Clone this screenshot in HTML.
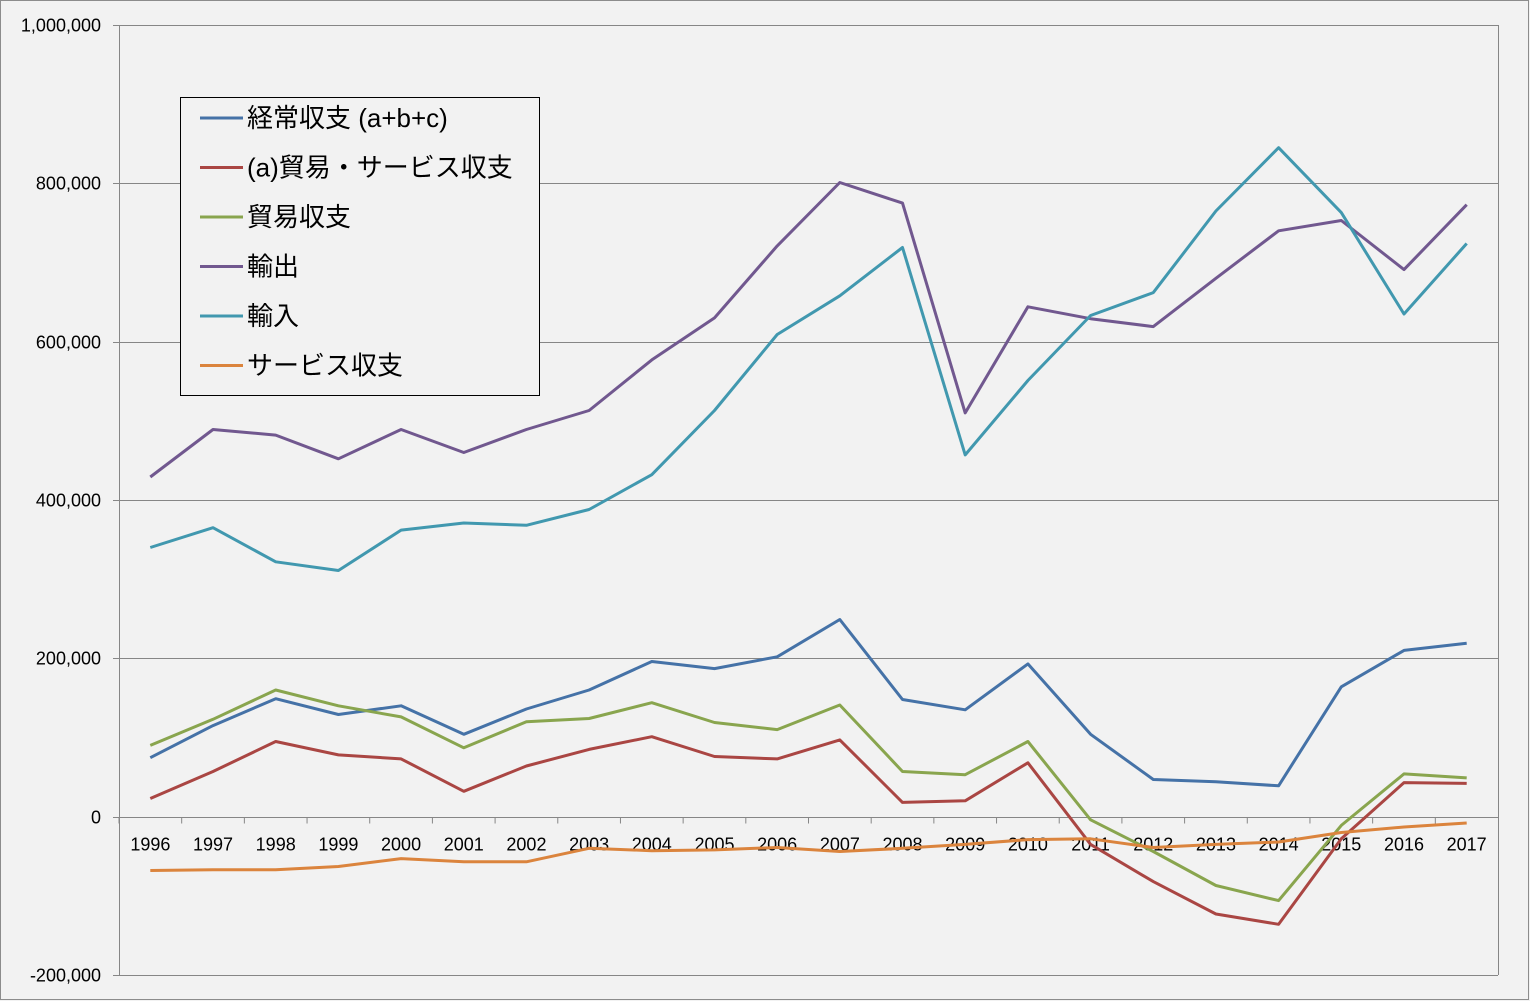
<!DOCTYPE html>
<html><head><meta charset="utf-8"><style>
body{margin:0;background:#f2f2f2;}
svg{display:block;font-family:"Liberation Sans","Noto Sans CJK JP",sans-serif;}
</style></head><body>
<svg id="chart" width="1530" height="1001">
<rect x="0.5" y="0.5" width="1528" height="999" fill="#f2f2f2" stroke="#8c8c8c"/>
<g id="grid"></g><g id="axes"></g><g id="series"></g>
<g>
<rect x="180.5" y="97.5" width="359" height="298" fill="#f2f2f2" stroke="#000"/>
<g id="legend"></g>
</g>
</svg>
<script>
const years=["1996","1997","1998","1999","2000","2001","2002","2003","2004","2005","2006","2007","2008","2009","2010","2011","2012","2013","2014","2015","2016","2017"];
const currentAccount=[74500,115000,149000,129000,140000,104000,136000,160000,196000,187000,202000,249000,148000,135000,193000,104000,47000,44000,39000,164000,210000,219000];
const tradeServices=[23000,57000,95000,78000,73000,32000,64000,85000,101000,76000,73000,97000,18000,20000,68000,-35000,-82000,-123000,-136000,-28000,43000,42000];
const trade=[90000,123000,160000,140000,126000,87000,120000,124000,144000,119000,110000,141000,57000,53000,95000,-4000,-44000,-87000,-106000,-11000,54000,49000];
const exportsV=[429000,489000,482000,452000,489000,460000,489000,513000,577000,630000,721000,801000,775000,510000,644000,629000,619000,680000,740000,753000,691000,773000];
const importsV=[340000,365000,322000,311000,362000,371000,368000,388000,432000,513000,609000,658000,719000,457000,551000,633000,662000,765000,845000,763000,635000,724000];
const services=[-68000,-67000,-67000,-63000,-53000,-57000,-57000,-40000,-43000,-42000,-39000,-44000,-40000,-35000,-29000,-28000,-39000,-35000,-32000,-20000,-13000,-8000];
const yTicks=[-200000,0,200000,400000,600000,800000,1000000];
const yTickLabels=["-200,000","0","200,000","400,000","600,000","800,000","1,000,000"];
const seriesNames=["経常収支 (a+b+c)","(a)貿易・サービス収支","貿易収支","輸出","輸入","サービス収支"];

const NS="http://www.w3.org/2000/svg";
const L=119,R=1498,T=25,B=975,yMin=-200000,yMax=1000000;
const step=(R-L)/years.length;
function xs(i){return L+step*(i+0.5);}
function ys(v){return B-(v-yMin)/(yMax-yMin)*(B-T);}
function mk(tag,attrs,parent){const e=document.createElementNS(NS,tag);for(const k in attrs)e.setAttribute(k,attrs[k]);parent.appendChild(e);return e;}
const grid=document.getElementById('grid'),axes=document.getElementById('axes'),ser=document.getElementById('series'),leg=document.getElementById('legend');
yTicks.forEach((v,i)=>{
 const y=Math.round(ys(v))+0.5;
 if(v!==0){const g=mk('line',{x1:L,x2:R,y1:y,y2:y,stroke:'#868686','stroke-width':1},grid);
 
 }
 const tk=mk('line',{x1:L-6,x2:L,y1:y,y2:y,stroke:'#868686'},axes);
 
 
 const t=mk('text',{x:101,y:y+6,'text-anchor':'end','font-size':18,fill:'#000'},axes);
 t.textContent=yTickLabels[i];
 
 
});
const ya=mk('line',{x1:L+0.5,x2:L+0.5,y1:T,y2:B,stroke:'#868686'},axes);


const rb=mk('line',{x1:R+0.5,x2:R+0.5,y1:T,y2:B,stroke:'#868686'},axes);


const y0=Math.round(ys(0))+0.5;
const xa=mk('line',{x1:L,x2:R,y1:y0,y2:y0,stroke:'#868686'},axes);


years.forEach((yr,i)=>{
 const tx=L+step*i;
 const tk=mk('line',{x1:tx,x2:tx,y1:y0,y2:y0+6,stroke:'#868686'},axes);
 
 
 const t=mk('text',{x:xs(i),y:y0+33,'text-anchor':'middle','font-size':18,fill:'#000'},axes);
 t.textContent=yr;
 
 
});
const all=[currentAccount,tradeServices,trade,exportsV,importsV,services];
const colors=["#4572a7","#aa4643","#89a54e","#71588f","#4198af","#db843d"];
const keys=["current-account","trade-services","trade","exports","imports","services"];
all.forEach((d,s)=>{
 const p=mk('polyline',{points:d.map((v,i)=>xs(i).toFixed(1)+','+ys(v).toFixed(1)).join(' '),fill:'none',stroke:colors[s],'stroke-width':3,'stroke-linejoin':'round'},ser);
 
 
 const ly=118+s*49.5;
 const ll=mk('line',{x1:200,x2:243,y1:ly,y2:ly,stroke:colors[s],'stroke-width':3},leg);
 
 
 const lt=mk('text',{x:247,y:ly+9,'font-size':26,fill:'#000'},leg);
 lt.textContent=seriesNames[s];
 
 
});
</script>
</body></html>
